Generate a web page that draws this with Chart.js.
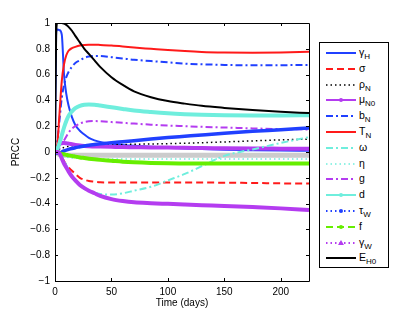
<!DOCTYPE html>
<html><head><meta charset="utf-8">
<script src="https://cdn.jsdelivr.net/npm/chart.js@4"></script>
<style>
body{margin:0;background:#fff;}
#wrap{position:relative;width:420px;height:316px;overflow:hidden;}
#c{position:absolute;left:0;top:0;}
#legend{position:absolute;left:319px;top:42px;width:70px;height:226px;border:1px solid #000;box-sizing:border-box;background:#fff;font-family:'Liberation Sans',Arial,sans-serif;font-size:10.5px;color:#000;}
.row{position:absolute;left:0;width:68px;height:16px;}
.row svg{position:absolute;left:6px;top:0;}
.row span{position:absolute;left:39px;top:1px;line-height:13px;white-space:nowrap;}
.row sub{font-size:8px;vertical-align:-3px;line-height:0;}
</style></head>
<body><div id="wrap"><canvas id="c" width="420" height="316"></canvas><div id="legend"></div></div>
<script>
const T = [0,1,2,4,6,8,10,12,15,18,22,26,30,35,40,50,60,70,85,100,115,130,150,175,200,225];
const gammaH = [0,0.93,0.95,0.945,0.91,0.6,0.45,0.36,0.27,0.21,0.165,0.135,0.11,0.09,0.078,0.065,0.055,0.048,0.04,0.034,0.028,0.023,0.018,0.014,0.011,0.01];
const sigma  = [0,0,0,-0.01,-0.04,-0.07,-0.1,-0.12,-0.145,-0.17,-0.2,-0.215,-0.225,-0.23,-0.235,-0.237,-0.237,-0.237,-0.237,-0.237,-0.237,-0.237,-0.238,-0.24,-0.243,-0.245];
const rhoN   = [0,0,0.01,0.02,0.03,0.035,0.04,0.045,0.048,0.05,0.052,0.053,0.054,0.055,0.056,0.057,0.058,0.06,0.062,0.065,0.068,0.072,0.078,0.086,0.094,0.1];
const muN0   = [0,0.02,0.04,0.06,0.07,0.07,0.068,0.065,0.06,0.055,0.05,0.047,0.045,0.043,0.042,0.04,0.038,0.037,0.035,0.034,0.032,0.031,0.029,0.027,0.026,0.025];
const bN     = [0,0.02,0.08,0.25,0.42,0.52,0.58,0.62,0.66,0.69,0.71,0.73,0.74,0.745,0.745,0.735,0.725,0.715,0.705,0.695,0.685,0.68,0.675,0.672,0.673,0.675];
const TN     = [0,0,0.05,0.3,0.55,0.68,0.75,0.785,0.805,0.815,0.825,0.83,0.832,0.832,0.83,0.825,0.818,0.81,0.8,0.79,0.782,0.776,0.772,0.77,0.772,0.778];
const omega  = [0,0,-0.01,-0.02,-0.04,-0.07,-0.1,-0.14,-0.19,-0.23,-0.26,-0.285,-0.3,-0.315,-0.325,-0.33,-0.32,-0.3,-0.27,-0.22,-0.17,-0.11,-0.03,0.02,0.07,0.115];
const eta    = [0,0,-0.01,-0.02,-0.03,-0.035,-0.04,-0.043,-0.046,-0.048,-0.05,-0.051,-0.052,-0.053,-0.054,-0.055,-0.055,-0.055,-0.055,-0.055,-0.055,-0.055,-0.055,-0.055,-0.055,-0.055];
const g      = [0,0,0.01,0.03,0.06,0.09,0.12,0.15,0.18,0.2,0.22,0.232,0.238,0.24,0.238,0.232,0.226,0.22,0.212,0.205,0.2,0.195,0.19,0.183,0.178,0.175];
const d      = [0,0,0.02,0.07,0.13,0.19,0.24,0.28,0.315,0.34,0.358,0.366,0.368,0.366,0.36,0.347,0.334,0.322,0.31,0.3,0.293,0.288,0.284,0.282,0.283,0.285];
const tauW   = [0,0,-0.01,-0.01,0,0.008,0.015,0.02,0.027,0.033,0.04,0.047,0.053,0.058,0.063,0.072,0.08,0.088,0.1,0.112,0.122,0.132,0.145,0.16,0.173,0.187];
const f      = [0,0,0,-0.01,-0.015,-0.018,-0.022,-0.026,-0.03,-0.036,-0.042,-0.047,-0.052,-0.057,-0.061,-0.068,-0.075,-0.08,-0.085,-0.088,-0.089,-0.09,-0.09,-0.09,-0.09,-0.09];
const gammaW = [0,0,0,-0.01,-0.05,-0.09,-0.12,-0.15,-0.19,-0.22,-0.255,-0.28,-0.3,-0.32,-0.34,-0.365,-0.38,-0.39,-0.397,-0.402,-0.407,-0.412,-0.418,-0.427,-0.437,-0.45];
const EH0    = [0,0.9,1,1,1,0.995,0.985,0.97,0.94,0.9,0.85,0.8,0.76,0.71,0.66,0.58,0.52,0.47,0.425,0.395,0.375,0.358,0.342,0.325,0.312,0.302];
const band   = [0,0,-0.01,-0.02,-0.025,-0.025,-0.025,-0.025,-0.025,-0.025,-0.025,-0.025,-0.025,-0.025,-0.025,-0.025,-0.025,-0.025,-0.025,-0.025,-0.025,-0.025,-0.025,-0.025,-0.025,-0.025];

const labels = ['γH','σ','ρN','μN0','bN','TN','ω','η','g','d','τW','f','γW','EH0'];
const legendBase = ['γ','σ','ρ','μ','b','T','ω','η','g','d','τ','f','γ','E'];
const legendSub  = ['H','','N','N0','N','N','','','','','W','','W','H0'];
const yTicks = [-1,-0.8,-0.6,-0.4,-0.2,0,0.2,0.4,0.6,0.8,1];
const xTicks = [0,50,100,150,200];

const BLUE='#2040ff', RED='#ff1a1a', BLACK='#000000', PURPLE='#b43cf0', CYAN='#6feedd', GREEN='#66ee00';
const DASH=[7,4], DOT=[1.5,3], DASHDOT=[7,3,2,3];
const styles = [
  {c:BLUE,w:2,dash:[]},
  {c:RED,w:2,dash:DASH},
  {c:BLACK,w:1.5,dash:DOT},
  {c:PURPLE,w:4,dash:[],m:'dot'},
  {c:BLUE,w:2,dash:DASHDOT},
  {c:RED,w:2,dash:[]},
  {c:CYAN,w:2,dash:DASHDOT},
  {c:CYAN,w:1.5,dash:DOT},
  {c:PURPLE,w:2,dash:DASHDOT},
  {c:CYAN,w:4,dash:[],m:'dot'},
  {c:BLUE,w:3.5,dash:[],m:'dot',ld:DOT},
  {c:GREEN,w:4,dash:[],m:'dot',ld:DASH},
  {c:PURPLE,w:4,dash:[],m:'tri',ld:DOT},
  {c:BLACK,w:2,dash:[]}
];
const series = [gammaH,sigma,rhoN,muN0,bN,TN,omega,eta,g,d,tauW,f,gammaW,EH0];

const datasets = series.map((vals,i)=>({
  label: labels[i],
  data: vals.map((v,k)=>({x:T[k],y:v})),
  borderColor: styles[i].c,
  borderWidth: styles[i].w,
  borderDash: styles[i].dash,
  pointRadius: 0,
  fill: false,
  cubicInterpolationMode: 'monotone',
  order: series.length - i
}));
datasets.push({label:'', data: band.map((v,k)=>({x:T[k],y:v})), borderColor:'#cccccc', borderWidth:5, pointRadius:0, fill:false, cubicInterpolationMode:'monotone', order: 100});

const frame = {
  id:'frame',
  afterDraw(chart){
    const {ctx, chartArea:a, scales:{x,y}} = chart;
    ctx.save();
    ctx.strokeStyle='#000'; ctx.lineWidth=1; ctx.setLineDash([]);
    ctx.beginPath();
    ctx.rect(Math.round(a.left)+0.5, Math.round(a.top)+0.5, Math.round(a.right-a.left), Math.round(a.bottom-a.top));
    const L=3;
    xTicks.forEach(v=>{const p=Math.round(x.getPixelForValue(v))+0.5; ctx.moveTo(p,a.bottom); ctx.lineTo(p,a.bottom-L); ctx.moveTo(p,a.top); ctx.lineTo(p,a.top+L);});
    yTicks.forEach(v=>{const p=Math.round(y.getPixelForValue(v))+0.5; ctx.moveTo(a.left,p); ctx.lineTo(a.left+L,p); ctx.moveTo(a.right,p); ctx.lineTo(a.right-L,p);});
    ctx.stroke();
    ctx.restore();
  }
};

const FONT = {family:"'Liberation Sans', Arial, sans-serif", size:10};
new Chart(document.getElementById('c'), {
  type:'line',
  data:{datasets},
  options:{
    responsive:false, animation:false, events:[],
    layout:{padding:{top:23,right:111,left:0,bottom:0}},
    plugins:{legend:{display:false}, tooltip:{enabled:false}},
    scales:{
      x:{type:'linear', min:0, max:225, afterBuildTicks:s=>{s.ticks=xTicks.map(v=>({value:v}));},
         grid:{display:false, drawTicks:false, tickLength:0}, border:{display:false},
         ticks:{color:'#000', font:FONT, padding:5, maxRotation:0, callback:v=>String(v)},
         title:{display:true, text:'Time (days)', color:'#000', font:FONT, padding:{top:0,bottom:7}},
         afterFit:s=>{s.height=35;}},
      y:{type:'linear', min:-1, max:1, afterBuildTicks:s=>{s.ticks=yTicks.map(v=>({value:v}));},
         grid:{display:false, drawTicks:false, tickLength:0}, border:{display:false},
         ticks:{color:'#000', font:FONT, padding:5, callback:v=>{const r=Math.round(v*10)/10; return String(r).replace('-','−');}},
         title:{display:true, text:'PRCC', color:'#000', font:FONT, padding:{top:10,bottom:0}},
         afterFit:s=>{s.width=55;}}
    }
  },
  plugins:[frame]
});

// HTML legend
const leg = document.getElementById('legend');
styles.forEach((s,i)=>{
  const row = document.createElement('div');
  row.className='row';
  row.style.top = (2 + i*15.8) + 'px';
  const dash = (s.ld||s.dash).join(',');
  const lw = s.m ? 2 : s.w;
  let marker='';
  if(s.m==='dot') marker = `<circle cx="15" cy="8" r="2" fill="${s.c}"/>`;
  if(s.m==='tri') marker = `<polygon points="15,5 18,10 12,10" fill="${s.c}"/>`;
  row.innerHTML = `<svg width="30" height="16"><line x1="0" y1="8" x2="30" y2="8" stroke="${s.c}" stroke-width="${lw}" stroke-dasharray="${dash}"/>${marker}</svg>` +
    `<span>${legendBase[i]}${legendSub[i]?'<sub>'+legendSub[i]+'</sub>':''}</span>`;
  leg.appendChild(row);
});
</script>
</body></html>
